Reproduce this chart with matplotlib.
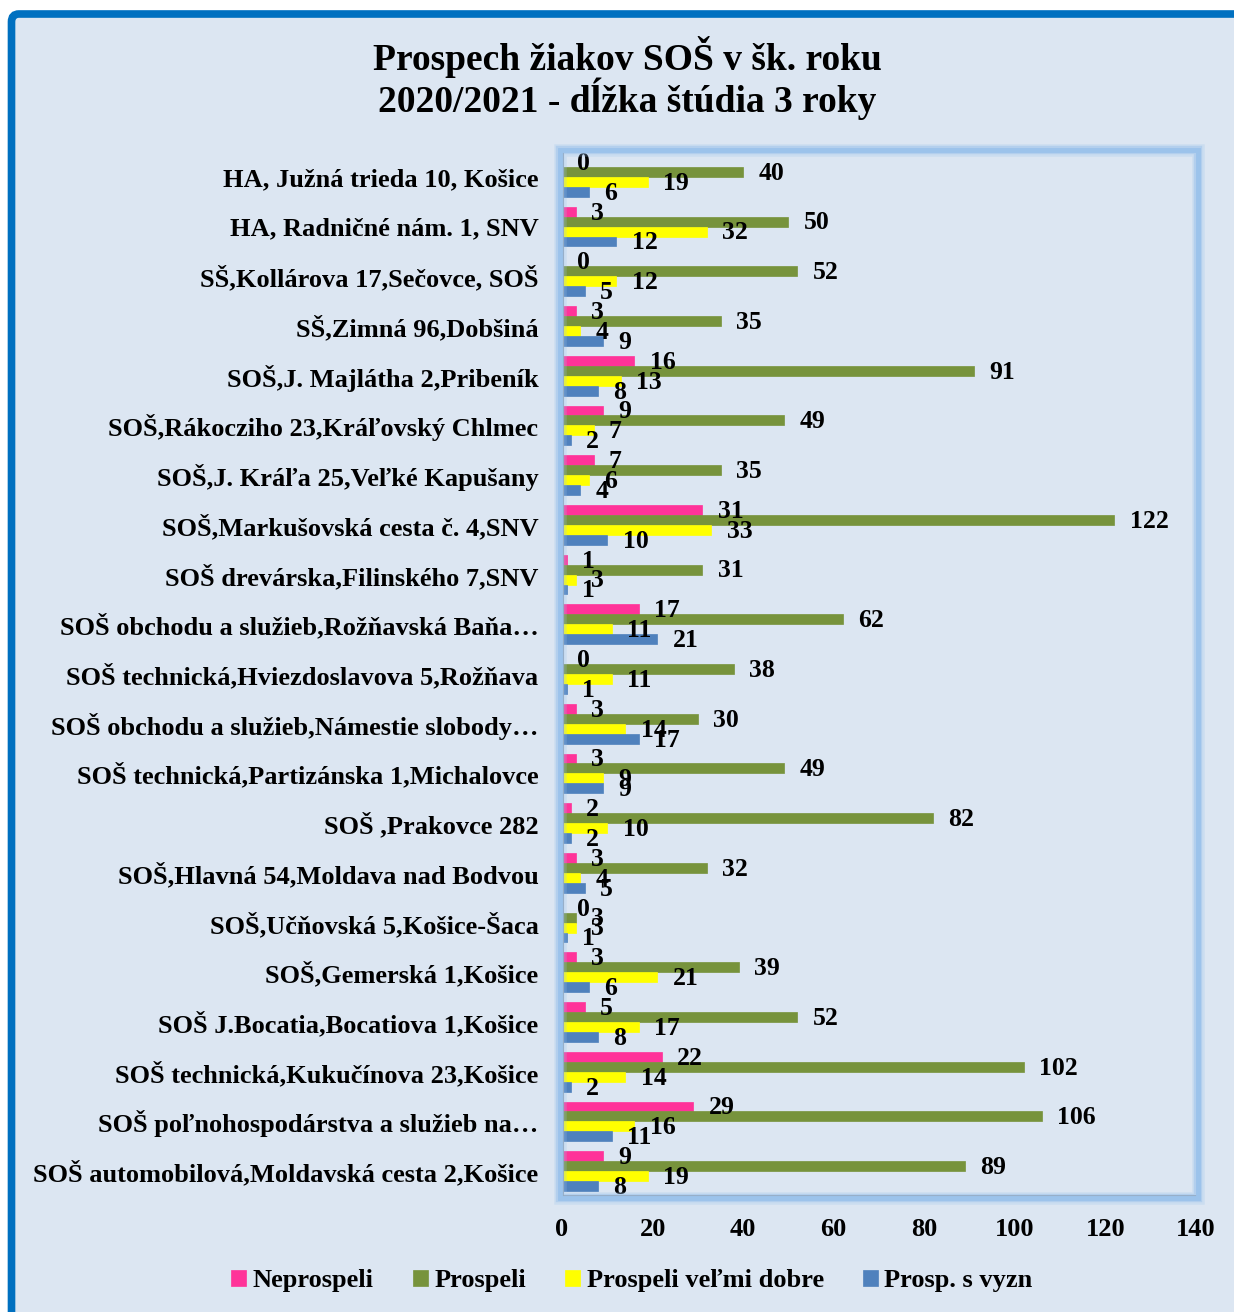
import matplotlib.pyplot as plt
from matplotlib.patches import Rectangle, FancyBboxPatch
import numpy as np

schools = [
    "HA, Južná trieda 10, Košice",
    "HA, Radničné nám. 1, SNV",
    "SŠ,Kollárova 17,Sečovce, SOŠ",
    "SŠ,Zimná 96,Dobšiná",
    "SOŠ,J. Majlátha 2,Pribeník",
    "SOŠ,Rákocziho 23,Kráľovský Chlmec",
    "SOŠ,J. Kráľa 25,Veľké Kapušany",
    "SOŠ,Markušovská cesta č. 4,SNV",
    "SOŠ drevárska,Filinského 7,SNV",
    "SOŠ obchodu a služieb,Rožňavská Baňa…",
    "SOŠ technická,Hviezdoslavova 5,Rožňava",
    "SOŠ obchodu a služieb,Námestie slobody…",
    "SOŠ technická,Partizánska 1,Michalovce",
    "SOŠ ,Prakovce 282",
    "SOŠ,Hlavná 54,Moldava nad Bodvou",
    "SOŠ,Učňovská 5,Košice-Šaca",
    "SOŠ,Gemerská 1,Košice",
    "SOŠ J.Bocatia,Bocatiova 1,Košice",
    "SOŠ technická,Kukučínova 23,Košice",
    "SOŠ poľnohospodárstva a služieb na…",
    "SOŠ automobilová,Moldavská cesta 2,Košice",
]
neprospeli = [0, 3, 0, 3, 16, 9, 7, 31, 1, 17, 0, 3, 3, 2, 3, 0, 3, 5, 22, 29, 9]
prospeli = [40, 50, 52, 35, 91, 49, 35, 122, 31, 62, 38, 30, 49, 82, 32, 3, 39, 52, 102, 106, 89]
velmi_dobre = [19, 32, 12, 4, 13, 7, 6, 33, 3, 11, 11, 14, 9, 10, 4, 3, 21, 17, 14, 16, 19]
s_vyzn = [6, 12, 5, 9, 8, 2, 4, 10, 1, 21, 1, 17, 9, 2, 5, 1, 6, 8, 2, 11, 8]

series = [
    ("Neprospeli", neprospeli, "#ff3399"),
    ("Prospeli", prospeli, "#77933c"),
    ("Prospeli veľmi dobre", velmi_dobre, "#ffff00"),
    ("Prosp. s vyzn", s_vyzn, "#4f81bd"),
]

plt.rcParams['font.family'] = ['Liberation Serif', 'DejaVu Serif']
plt.rcParams['font.weight'] = 'bold'

W, H = 1234, 1312
bg = "#dce6f2"
fig = plt.figure(figsize=(W / 100, H / 100), dpi=100, facecolor="white")

def fx(px):
    return px / W

def fy(py):
    return 1 - py / H

# outer frame
fig.patches.append(FancyBboxPatch((fx(11.5), fy(1400)), fx(1400), fy(14) - fy(1400),
                                  boxstyle="round,pad=0,rounding_size=0.006",
                                  transform=fig.transFigure, facecolor=bg,
                                  edgecolor="#0070c0", linewidth=5.5, zorder=-5))

ax = fig.add_axes([fx(562), fy(1196), fx(1196) - fx(562), fy(152) - fy(1196)])
ax.set_facecolor(bg)

# plot area glow border
for lw, al in [(9, 0.25), (6, 0.5), (3.5, 1.0)]:
    fig.patches.append(Rectangle((fx(560), fy(1198)), fx(1198) - fx(560), fy(150) - fy(1198),
                                 transform=fig.transFigure, fill=False,
                                 edgecolor="#9cc3eb", linewidth=lw, alpha=al, zorder=0.5))

y = np.arange(len(schools))
h = 0.2
offsets = [-0.3, -0.1, 0.1, 0.3]
for (name, vals, col), off in zip(series, offsets):
    bars = ax.barh(y + off, vals, height=h, color=col, label=name, zorder=2,
                   edgecolor=col, linewidth=0.5)
    for b, v in zip(bars, vals):
        ax.annotate(str(v), (b.get_width(), b.get_y() + b.get_height() / 2),
                    xytext=(11, -1), textcoords="offset points",
                    ha="left", va="center", fontsize=18.5, fontweight="bold", zorder=5)

ax.set_ylim(len(schools) - 0.5, -0.5)
ax.set_xlim(0, 140)
ax.set_xticks(np.arange(0, 141, 20))
ax.set_yticks(y)
ax.set_yticklabels(schools)
ax.tick_params(axis="both", length=0, labelsize=19)
ax.tick_params(axis="y", pad=17)
ax.tick_params(axis="x", pad=16)
for s in ["top", "right"]:
    ax.spines[s].set_visible(False)
for s in ["left", "bottom"]:
    ax.spines[s].set_color("#868686")
    ax.spines[s].set_linewidth(2)
    ax.spines[s].set_zorder(3)

fig.text(fx(627), fy(78), "Prospech žiakov SOŠ v šk. roku\n2020/2021 - dĺžka štúdia 3 roky",
         ha="center", va="center", fontsize=27, fontweight="bold", linespacing=0.98)

fig.legend(loc="center", bbox_to_anchor=(fx(632), fy(1281)), ncol=4, frameon=False,
           fontsize=19, handlelength=0.55, handleheight=0.55, handletextpad=0.25,
           columnspacing=1.5)

fig.savefig("out.png", dpi=100, facecolor="white")
